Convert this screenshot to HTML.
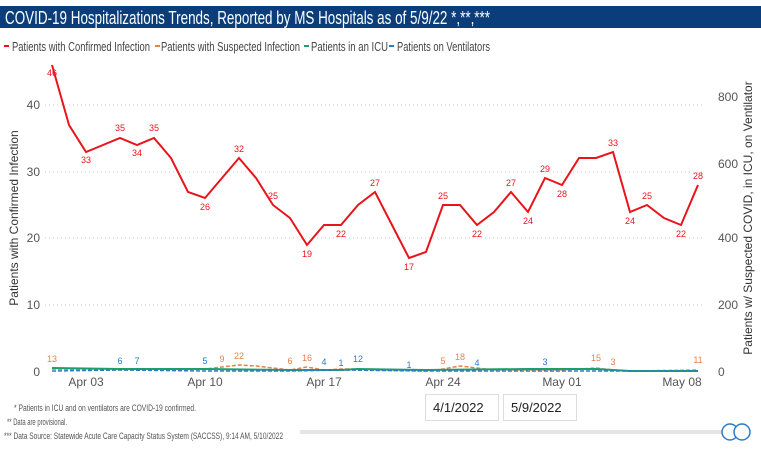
<!DOCTYPE html>
<html><head><style>
body{margin:0;width:761px;height:446px;background:#fff;overflow:hidden;font-family:"Liberation Sans",sans-serif}
svg text{font-family:"Liberation Sans",sans-serif}
</style></head><body>
<svg width="761" height="446" xmlns="http://www.w3.org/2000/svg">
<rect x="0" y="6" width="761" height="22" fill="#0a3d79"/>
<text x="5" y="24" fill="#fff" font-size="18" textLength="485" lengthAdjust="spacingAndGlyphs">COVID-19 Hospitalizations Trends, Reported by MS Hospitals as of 5/9/22 *,**,***</text>
<g font-size="13" fill="#444">
<rect x="4" y="45" width="5" height="2" fill="#e8141a"/><text x="12" y="51" textLength="138" lengthAdjust="spacingAndGlyphs">Patients with Confirmed Infection</text>
<rect x="155" y="45" width="5" height="2" fill="#e8804a"/><text x="161" y="51" textLength="139" lengthAdjust="spacingAndGlyphs">Patients with Suspected Infection</text>
<rect x="304" y="45" width="5" height="2" fill="#1aa068"/><text x="311" y="51" textLength="77" lengthAdjust="spacingAndGlyphs">Patients in an ICU</text>
<rect x="389" y="45" width="5" height="2" fill="#2d7bc4"/><text x="397" y="51" textLength="93" lengthAdjust="spacingAndGlyphs">Patients on Ventilators</text>
</g>
<g stroke="#ccc" stroke-dasharray="1,3">
<line x1="45" y1="105" x2="705" y2="105"/><line x1="45" y1="172" x2="705" y2="172"/><line x1="45" y1="238" x2="705" y2="238"/><line x1="45" y1="305" x2="705" y2="305"/>
</g>
<g font-size="12" fill="#555" text-anchor="end">
<text x="40" y="109">40</text><text x="40" y="176">30</text><text x="40" y="242">20</text><text x="40" y="309">10</text><text x="40" y="376">0</text>
</g>
<g font-size="12" fill="#555" text-anchor="start">
<text x="718" y="101">800</text><text x="718" y="168">600</text><text x="718" y="242">400</text><text x="718" y="309">200</text><text x="718" y="376">0</text>
</g>
<g font-size="12" fill="#555" text-anchor="middle">
<text x="86" y="386">Apr 03</text><text x="205" y="386">Apr 10</text><text x="324" y="386">Apr 17</text><text x="443" y="386">Apr 24</text><text x="562" y="386">May 01</text><text x="682" y="386">May 08</text>
</g>
<text transform="translate(18,218) rotate(-90)" font-size="12" fill="#333" text-anchor="middle">Patients with Confirmed Infection</text>
<text transform="translate(752,218) rotate(-90)" font-size="12" fill="#333" text-anchor="middle">Patients w/ Suspected COVID, in ICU, on Ventilator</text>
<polyline fill="none" stroke="#e8804a" stroke-width="1.5" stroke-dasharray="4,2" points="52,369 120,370 205,369 239,365 256,366 290,370 307,367 324,370 341,369 358,369 375,370 426,371 443,369 460,366 477,368 494,370 562,370 596,368 613,370 630,371 698,370"/>
<polyline fill="none" stroke="#1aa068" stroke-width="2" points="52,368 120,369 205,369 290,370 341,370 358,369 426,370 528,369 596,369 630,371 698,371"/>
<polyline fill="none" stroke="#2d7bc4" stroke-width="1.5" stroke-dasharray="4,2" points="52,371 120,370 205,371 290,371 341,370 426,371 528,371 630,371 698,371"/>
<polyline fill="none" stroke="#e8141a" stroke-width="2" points="52,65 69,125 86,152 103,145 120,138 137,145 154,138 171,158 188,192 205,198 222,178 239,158 256,178 273,205 290,218 307,245 324,225 341,225 358,205 375,192 392,225 409,258 426,252 443,205 460,205 477,225 494,212 511,192 528,212 545,178 562,185 579,158 596,158 613,152 630,212 647,205 664,218 681,225 698,185"/>
<g font-size="9" fill="#e8141a" text-anchor="middle">
<text x="52" y="76">46</text><text x="86" y="163">33</text><text x="120" y="131">35</text><text x="137" y="156">34</text><text x="154" y="131">35</text><text x="205" y="210">26</text><text x="239" y="152">32</text><text x="273" y="199">25</text><text x="307" y="257">19</text><text x="341" y="237">22</text><text x="375" y="186">27</text><text x="409" y="270">17</text><text x="443" y="199">25</text><text x="477" y="237">22</text><text x="511" y="186">27</text><text x="528" y="224">24</text><text x="545" y="172">29</text><text x="562" y="197">28</text><text x="613" y="146">33</text><text x="630" y="224">24</text><text x="647" y="199">25</text><text x="681" y="237">22</text><text x="698" y="179">28</text>
</g>
<g font-size="9" text-anchor="middle">
<g fill="#e8804a"><text x="52" y="362">13</text><text x="222" y="362">9</text><text x="239" y="359">22</text><text x="290" y="364">6</text><text x="307" y="361">16</text><text x="443" y="364">5</text><text x="460" y="360">18</text><text x="596" y="361">15</text><text x="613" y="365">3</text><text x="698" y="363">11</text></g>
<g fill="#2d7bc4"><text x="120" y="364">6</text><text x="137" y="364">7</text><text x="205" y="364">5</text><text x="324" y="365">4</text><text x="341" y="366">1</text><text x="358" y="362">12</text><text x="409" y="368">1</text><text x="477" y="366">4</text><text x="545" y="365">3</text></g>
</g>
<g font-size="9" fill="#555">
<text x="14" y="411" textLength="182" lengthAdjust="spacingAndGlyphs">* Patients in ICU and on ventilators are COVID-19 confirmed.</text>
<text x="7" y="425" textLength="60" lengthAdjust="spacingAndGlyphs">** Data are provisional.</text>
<text x="4" y="439" textLength="279" lengthAdjust="spacingAndGlyphs">*** Data Source: Statewide Acute Care Capacity Status System (SACCSS), 9:14 AM, 5/10/2022</text>
</g>
<rect x="425.5" y="394.5" width="73" height="26" fill="#fff" stroke="#ddd"/>
<rect x="503.5" y="394.5" width="73" height="26" fill="#fff" stroke="#ddd"/>
<text x="433" y="412" font-size="13" fill="#222">4/1/2022</text>
<text x="511" y="412" font-size="13" fill="#222">5/9/2022</text>
<rect x="300" y="430" width="425" height="4" fill="#e6e6e6"/>
<circle cx="730" cy="432" r="8" fill="#fff" stroke="#2d7bc4" stroke-width="1.5"/>
<circle cx="742" cy="432" r="8" fill="#fff" stroke="#2d7bc4" stroke-width="1.5"/>
</svg>
</body></html>
